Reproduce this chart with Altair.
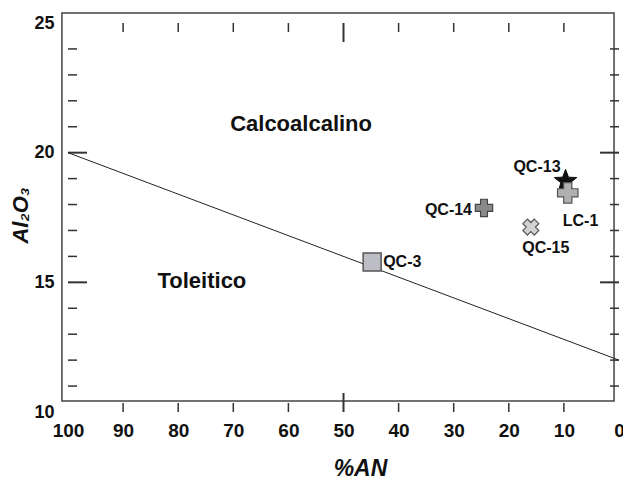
import math
import altair as alt
import pandas as pd

# ---------------- data ----------------
x_label_values = [100, 90, 80, 70, 60, 50, 40, 30, 20, 10, 0]
y_label_values = [10, 15, 20, 25]
x_minor_ticks = [90, 80, 70, 60, 40, 30, 20, 10]
x_major_ticks = [50]
y_minor_ticks = [11, 12, 13, 14, 16, 17, 18, 19, 21, 22, 23, 24]
y_major_ticks = [15, 20]

line_an = [100, 0]
line_al = [20, 12]

samples = ["QC-3", "QC-14", "QC-15", "QC-13", "LC-1"]
sample_an = [44.8, 24.5, 16.0, 9.7, 9.3]
sample_al = [15.78, 17.87, 17.13, 18.9, 18.45]

region_names = ["Calcoalcalino", "Toleitico"]
region_an = [57.7, 75.7]
region_al = [21.1, 15.05]

frame_an = [101.1, 0.9]
frame_al = [10.42, 25.39]

# ---------------- styles ----------------
FONT = "Liberation Sans"
INK = "#111111"
W, H = 551, 389

star_pts = []
for k in range(10):
    r = 1.0 if k % 2 == 0 else 0.42
    a = math.radians(-90 + 36 * k)
    star_pts.append(f"{r * math.cos(a):.3f},{r * math.sin(a):.3f}")
STAR = "M" + " L".join(star_pts) + " Z"

marker_style = {
    "QC-3": dict(shape="square", size=324, fill="#bdbdc6", stroke="#555555", strokeWidth=1.5, angle=0),
    "QC-14": dict(shape="cross", size=300, fill="#8a8a8a", stroke="#444444", strokeWidth=1.2, angle=0),
    "QC-15": dict(shape="cross", size=260, fill="#d2d2d2", stroke="#555555", strokeWidth=1.2, angle=45),
    "QC-13": dict(shape=STAR, size=560, fill="#111111", stroke="#111111", strokeWidth=1, angle=0),
    "LC-1": dict(shape="cross", size=420, fill="#b0b0b0", stroke="#555555", strokeWidth=1.2, angle=0),
}
label_style = {
    "QC-3": dict(align="left", dx=11, dy=0),
    "QC-14": dict(align="right", dx=-12, dy=2),
    "QC-15": dict(align="center", dx=15, dy=21),
    "QC-13": dict(align="right", dx=-5, dy=-14),
    "LC-1": dict(align="left", dx=-5, dy=28),
}

xs = alt.Scale(domain=[0, 100], reverse=True, nice=False, zero=False)
ys = alt.Scale(domain=[10, 25], nice=False, zero=False)

xaxis = alt.Axis(
    values=x_label_values, format="d", title="%AN", grid=False, ticks=False, domain=False,
    labelFont=FONT, labelFontWeight="bold", labelFontSize=19, labelColor=INK,
    labelPadding=9, labelFlush=False, labelOverlap=False,
    titleFont=FONT, titleFontWeight="bold", titleFontStyle="italic",
    titleFontSize=23, titleColor=INK, titleX=292, titleY=63,
    titleBaseline="alphabetic", titleAnchor="middle", titleAlign="center",
)
yaxis = alt.Axis(
    values=y_label_values, format="d", title="Al₂O₃", grid=False, ticks=False, domain=False,
    labelFont=FONT, labelFontWeight="bold", labelFontSize=18, labelColor=INK,
    labelPadding=14, labelFlush=False, labelOverlap=False,
    titleFont=FONT, titleFontWeight="bold", titleFontStyle="italic",
    titleFontSize=22, titleColor=INK, titleX=-41, titleY=192,
    titleBaseline="alphabetic", titleAngle=270,
)

samples_df = pd.DataFrame({"sample": samples, "an": sample_an, "al": sample_al})
line_df = pd.DataFrame({"an": line_an, "al": line_al})
region_df = pd.DataFrame({"name": region_names, "an": region_an, "al": region_al})

layers = []

# frame
layers.append(
    alt.Chart(pd.DataFrame({"an": [frame_an[0]], "an2": [frame_an[1]],
                            "al": [frame_al[0]], "al2": [frame_al[1]]}))
    .mark_rect(fillOpacity=0, stroke="#444444", strokeWidth=1.5)
    .encode(x=alt.X("an:Q", scale=xs, axis=xaxis), x2="an2:Q",
            y=alt.Y("al:Q", scale=ys, axis=yaxis), y2="al2:Q")
)

# ticks
def xticks(vals, at, length, width):
    return (
        alt.Chart(pd.DataFrame({"an": vals, "al": [at] * len(vals)}))
        .mark_rule(color="#333333", strokeWidth=width, y2Offset=length)
        .encode(x=alt.X("an:Q", scale=xs, axis=xaxis),
                y=alt.Y("al:Q", scale=ys, axis=yaxis), y2="al:Q")
    )

def yticks(vals, at, length, width):
    return (
        alt.Chart(pd.DataFrame({"al": vals, "an": [at] * len(vals)}))
        .mark_rule(color="#333333", strokeWidth=width, x2Offset=length)
        .encode(x=alt.X("an:Q", scale=xs, axis=xaxis), x2="an:Q",
                y=alt.Y("al:Q", scale=ys, axis=yaxis))
    )

layers += [
    xticks(x_minor_ticks, 10, -9, 1.5), xticks(x_major_ticks, 10, -19, 2),
    xticks(x_minor_ticks, 25, 9, 1.5), xticks(x_major_ticks, 25, 19, 2),
    yticks(y_minor_ticks, 100, 9, 1.5), yticks(y_major_ticks, 100, 19, 2),
    yticks(y_minor_ticks, 0, -9, 1.5), yticks(y_major_ticks, 0, -19, 2),
]

# boundary line
layers.append(
    alt.Chart(line_df).mark_line(color="#222222", strokeWidth=1)
    .encode(x=alt.X("an:Q", scale=xs, axis=xaxis), y=alt.Y("al:Q", scale=ys, axis=yaxis))
)

# region labels
layers.append(
    alt.Chart(region_df).mark_text(font=FONT, fontWeight="bold", fontSize=22, color=INK)
    .encode(x=alt.X("an:Q", scale=xs, axis=xaxis), y=alt.Y("al:Q", scale=ys, axis=yaxis),
            text="name:N")
)

# samples
for s in samples:
    st = marker_style[s]
    layers.append(
        alt.Chart(samples_df).transform_filter(alt.datum.sample == s)
        .mark_point(filled=True, opacity=1, **st)
        .encode(x=alt.X("an:Q", scale=xs, axis=xaxis), y=alt.Y("al:Q", scale=ys, axis=yaxis))
    )
    ls = label_style[s]
    layers.append(
        alt.Chart(samples_df).transform_filter(alt.datum.sample == s)
        .mark_text(font=FONT, fontWeight="bold", fontSize=16, color=INK,
                   baseline="middle", **ls)
        .encode(x=alt.X("an:Q", scale=xs, axis=xaxis), y=alt.Y("al:Q", scale=ys, axis=yaxis),
                text="sample:N")
    )

chart = (
    alt.layer(*layers)
    .properties(width=W, height=H,
                autosize=alt.AutoSizeParams(type="none"),
                padding={"left": 68, "top": 23, "right": 4, "bottom": 68},
                background="white")
    .configure_view(strokeWidth=0)
)

chart.save("out.html", embed_options={"renderer": "svg", "actions": False})
